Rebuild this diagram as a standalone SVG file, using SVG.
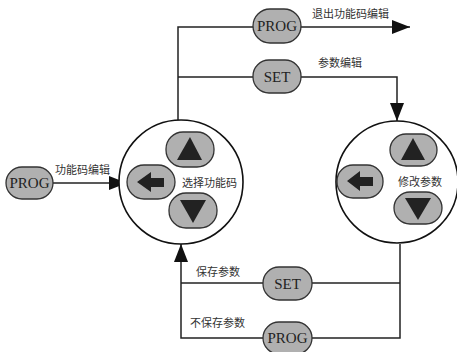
<svg xmlns="http://www.w3.org/2000/svg" width="457" height="352" viewBox="0 0 457 352">
<style>
.btn{fill:#b0b0b0;stroke:#333;stroke-width:1.3}
.ring{fill:#fff;stroke:#111;stroke-width:1.6}
.line{fill:none;stroke:#222;stroke-width:1.5}
.glyph{fill:#222}
.bt{font-family:"Liberation Serif",serif;font-size:15px;fill:#222;text-anchor:middle}
.lb{font-family:"Noto Sans CJK SC",sans-serif;font-size:11px;fill:#333}
</style>
<defs>
<marker id="ah" viewBox="0 0 18 14" refX="18" refY="7" markerWidth="18" markerHeight="14" markerUnits="userSpaceOnUse" orient="auto">
<path d="M0,0 L18,7 L0,14 Z" fill="#111"/>
</marker>
</defs>
<rect width="457" height="352" fill="#fff"/>
<g id="connectors">
<line class="line" x1="53" y1="183" x2="127" y2="183" marker-end="url(#ah)"/>
<polyline class="line" points="178,120 178,27 410,27" marker-end="url(#ah)"/>
<polyline class="line" points="178,77 397,77 397,121" marker-end="url(#ah)"/>
<polyline class="line" points="400,244 400,338 181,338 181,244" marker-end="url(#ah)"/>
<line class="line" x1="181" y1="283" x2="400" y2="283"/>
</g>
<g id="left-ring">
<circle class="ring" cx="181" cy="182" r="62"/>
<rect class="btn" x="166" y="132" width="48" height="35" rx="17"/>
<path class="glyph" d="M190,137 L202,160 L177,160 Z"/>
<rect class="btn" x="127" y="165" width="48" height="34" rx="17"/>
<path class="glyph" d="M137,182 L151,172 L151,178 L164,178 L164,187 L151,187 L151,192 Z"/>
<rect class="btn" x="169" y="193" width="48" height="35" rx="17"/>
<path class="glyph" d="M180,200 L206,200 L193,223 Z"/>
<text class="lb" x="182" y="187">选择功能码</text>
</g>
<g id="right-ring">
<circle class="ring" cx="397" cy="182" r="61"/>
<rect class="btn" x="390" y="134" width="47" height="32" rx="16"/>
<path class="glyph" d="M413,138 L425,160 L401,160 Z"/>
<rect class="btn" x="337" y="165" width="46" height="33" rx="16"/>
<path class="glyph" d="M347,181 L360,171 L360,177 L373,177 L373,186 L360,186 L360,191 Z"/>
<rect class="btn" x="394" y="192" width="48" height="32" rx="16"/>
<path class="glyph" d="M405,198 L431,198 L418,220 Z"/>
<text class="lb" x="398" y="186">修改参数</text>
</g>
<g id="prog-left">
<rect class="btn" x="6" y="167" width="47" height="32" rx="16"/>
<text class="bt" x="29.5" y="188">PROG</text>
<text class="lb" x="55" y="174">功能码编辑</text>
</g>
<g id="prog-top">
<rect class="btn" x="253" y="9" width="48" height="34" rx="17"/>
<text class="bt" x="277" y="31">PROG</text>
<text class="lb" x="312" y="18">退出功能码编辑</text>
</g>
<g id="set-top">
<rect class="btn" x="253" y="60" width="48" height="33" rx="16"/>
<text class="bt" x="277" y="82">SET</text>
<text class="lb" x="318" y="67">参数编辑</text>
</g>
<g id="set-bottom">
<rect class="btn" x="263" y="267" width="49" height="33" rx="16"/>
<text class="bt" x="287.5" y="289">SET</text>
<text class="lb" x="196" y="276">保存参数</text>
</g>
<g id="prog-bottom">
<rect class="btn" x="263" y="322" width="49" height="32" rx="16"/>
<text class="bt" x="287.5" y="343">PROG</text>
<text class="lb" x="190" y="327">不保存参数</text>
</g>
</svg>
